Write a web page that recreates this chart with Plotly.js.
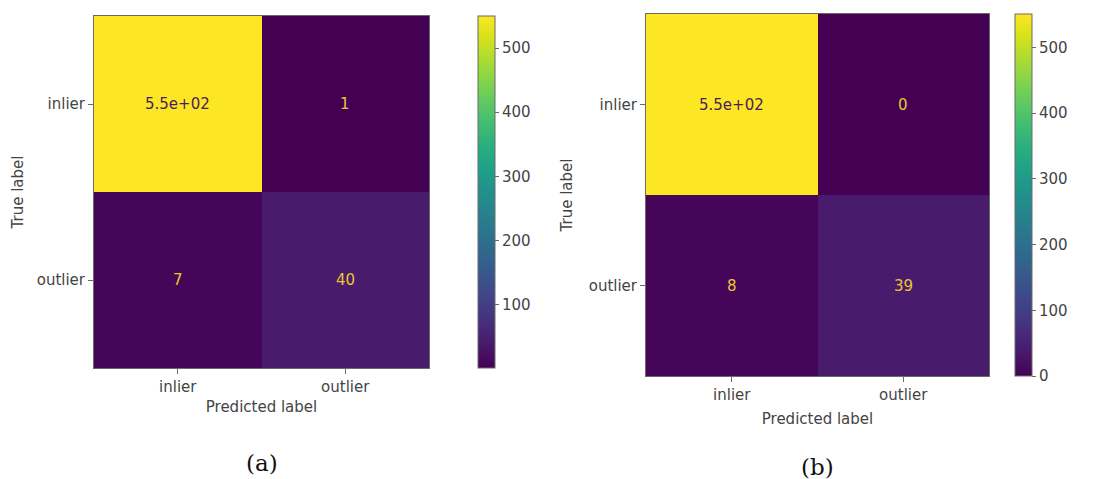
<!DOCTYPE html>
<html>
<head>
<meta charset="utf-8">
<script src="https://cdn.plot.ly/plotly-3.0.1.min.js"></script>
<style>html,body{margin:0;padding:0;background:#fff;}#chart{width:1102px;height:479px;}</style>
</head>
<body>
<div id="chart"></div>
<script>
// ---- data ----
const predictedLabels = ["inlier", "outlier"];
const trueLabels = ["inlier", "outlier"];
const matrixA = [[550, 1], [7, 40]];
const matrixB = [[551, 0], [8, 39]];
const captionA = "(a)";
const captionB = "(b)";

// ---- helpers ----
function fmt2g(v) {
  if (Math.abs(v) >= 100) {
    const s = v.toExponential(1);
    return s.replace(/e([+-])(\d)$/, "e$10$2");
  }
  return String(v);
}
function zRange(z) {
  const flat = z.flat();
  return [Math.min(...flat), Math.max(...flat)];
}
const tickFont = {family: "DejaVu Sans", size: 15, color: "#444"};
const lineCol = "#6a6a6a";

function makeTrace(z, xa, ya, cb) {
  const [mn, mx] = zRange(z);
  return {
    type: "heatmap",
    x: predictedLabels, y: trueLabels, z: z,
    xaxis: xa, yaxis: ya,
    colorscale: "Viridis", zmin: mn, zmax: mx,
    hoverinfo: "none",
    colorbar: Object.assign({
      thickness: 17, thicknessmode: "pixels", lenmode: "pixels",
      xanchor: "left", yanchor: "middle",
      outlinecolor: lineCol, outlinewidth: 1,
      ticks: "outside", ticklen: 4, tickcolor: lineCol, tickwidth: 1,
      tick0: 0, dtick: 100, tickfont: tickFont, xpad: 0, ypad: 0
    }, cb)
  };
}
function makeAnnots(z, xref, yref) {
  const [mn, mx] = zRange(z);
  const thr = (mn + mx) / 2;
  const out = [];
  z.forEach((row, i) => row.forEach((v, j) => {
    out.push({
      x: predictedLabels[j], y: trueLabels[i], xref: xref, yref: yref,
      text: fmt2g(v), showarrow: false,
      font: {family: "DejaVu Sans", size: 15, color: v > thr ? "#4a1d5a" : "#e8c832"}
    });
  }));
  return out;
}

const W = 1102, H = 479;
const px = (a, b) => [a / W, b / W];
const py = (top, bottom) => [1 - bottom / H, 1 - top / H];

const traces = [
  makeTrace(matrixA, "x", "y", {x: 478 / W, y: 1 - 192 / H, len: 352}),
  makeTrace(matrixB, "x2", "y2", {x: 1015 / W, y: 1 - 195 / H, len: 362})
];

function xAxis(domain, anchor, standoff) {
  return {
    domain: domain, anchor: anchor, type: "category",
    showline: true, mirror: true, linecolor: lineCol, linewidth: 1,
    ticks: "outside", ticklen: 5, tickcolor: lineCol,
    showgrid: false, zeroline: false, tickfont: tickFont,
    title: {text: "Predicted label", font: tickFont, standoff: standoff},
    fixedrange: true
  };
}
function yAxis(domain, anchor, standoff) {
  return {
    domain: domain, anchor: anchor, type: "category", autorange: "reversed",
    showline: true, mirror: true, linecolor: lineCol, linewidth: 1,
    ticks: "outside", ticklen: 5, tickcolor: lineCol,
    showgrid: false, zeroline: false, tickfont: tickFont,
    title: {text: "True label", font: tickFont, standoff: standoff},
    fixedrange: true
  };
}

const layout = {
  width: W, height: H,
  margin: {l: 0, r: 0, t: 0, b: 0},
  paper_bgcolor: "#fff", plot_bgcolor: "#fff",
  showlegend: false,
  xaxis: xAxis(px(94, 429), "y", 6),
  yaxis: yAxis(py(16, 368), "x", 9),
  xaxis2: xAxis(px(646, 989), "y2", 10),
  yaxis2: yAxis(py(14, 376), "x2", 12),
  annotations: makeAnnots(matrixA, "x", "y").concat(makeAnnots(matrixB, "x2", "y2")).concat([
    {text: captionA, xref: "paper", yref: "paper", x: 262 / W, y: 1 - 463 / H, showarrow: false,
     xanchor: "center", yanchor: "middle", font: {family: "DejaVu Serif", size: 23, color: "#111"}},
    {text: captionB, xref: "paper", yref: "paper", x: 817 / W, y: 1 - 467 / H, showarrow: false,
     xanchor: "center", yanchor: "middle", font: {family: "DejaVu Serif", size: 23, color: "#111"}}
  ])
};

Plotly.newPlot("chart", traces, layout, {staticPlot: true, displayModeBar: false});
</script>
</body>
</html>
